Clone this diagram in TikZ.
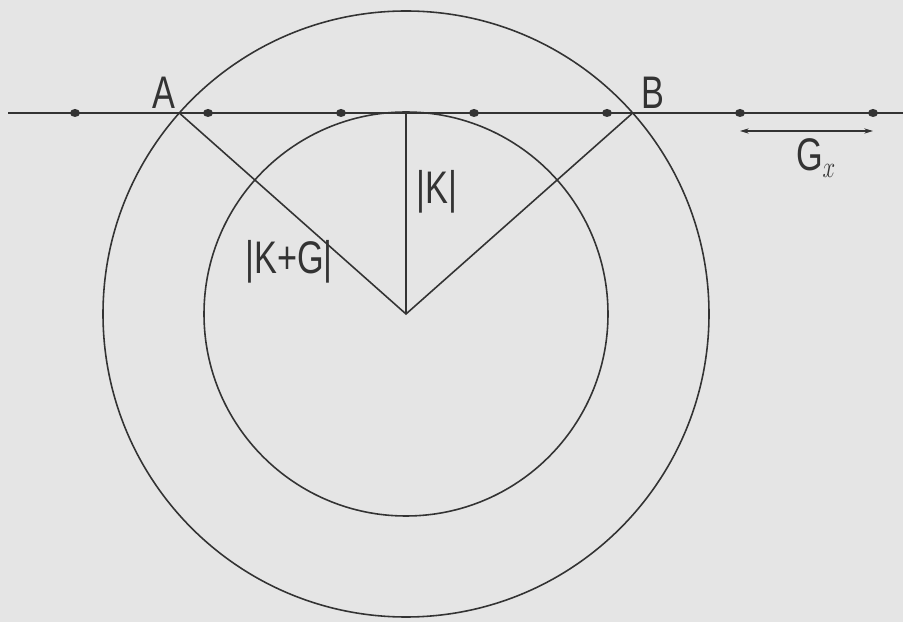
\documentclass[tikz,border=0pt]{standalone}
\usepackage{fontspec}
\setmainfont{Liberation Sans}
\usetikzlibrary{calc, positioning}
\usetikzlibrary{arrows.meta}
\definecolor{paper}{gray}{0.9}
\definecolor{ink}{gray}{0.2}
\tikzset{
  lettering/.style={text=ink, inner sep=0pt, font=\fontsize{26}{30}\selectfont,
    xscale=0.75, transform shape},
  spot/.style={fill=ink},
}

\begin{document}
\begin{tikzpicture}[x=0.2mm, y=-0.2mm, line width=0.9pt, draw=ink]
\def\rin{202}
\def\rout{303}
\def\gx{133}
\def\dx{226.7}
\fill[paper] (0,0) rectangle (903,622);
\useasboundingbox (0,0) rectangle (903,622);
\coordinate (O) at (406,314);
\coordinate (T) at (406,113);
\coordinate (A) at (406-\dx,113);
\coordinate (B) at (406+\dx,113);
\coordinate (lineL) at (8,113);
\coordinate (lineR) at (903,113);
% circles
\draw[ink] (O) circle[radius=\rout];
\draw[ink] (O) circle[radius=\rin];
% line of reciprocal points
\draw[ink] (lineL) -- (lineR);
\foreach \i in {0,...,6}
  \fill[spot] (75+\i*\gx,113) ellipse[x radius=5, y radius=4];
% radii
\draw[ink] (A) -- (O) -- (B);
\draw[ink] (T) -- (O);
% spacing
\coordinate (gL) at (740,131);
\coordinate (gR) at (873,131);
\draw[ink, line width=0.6pt, {Stealth[length=5pt,width=3pt]}-{Stealth[length=5pt,width=3pt]}] (gL) -- (gR);
% labels
\node[lettering] (labA) at (164,93) {A};
\node[lettering] (labB) at (653,93) {B};
\node[lettering] (labK) at (437,192) {|K|};
\node[lettering] (labKG) at (289,262) {|K+G|};
\node[lettering] (labG) at (816,158) {G$_x$};
\end{tikzpicture}
\end{document}
